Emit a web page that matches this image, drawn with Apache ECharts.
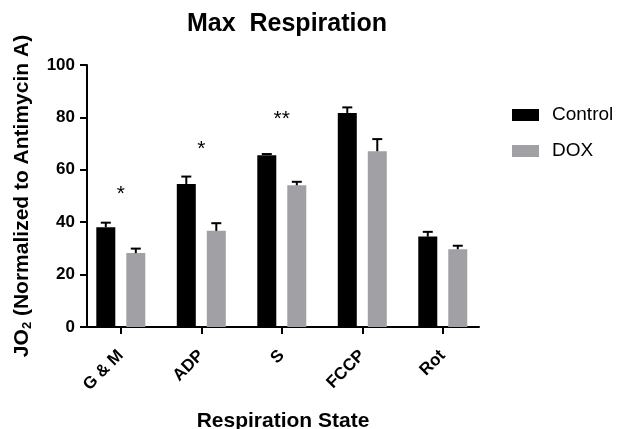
<!DOCTYPE html>
<html>
<head>
<meta charset="utf-8">
<script src="https://cdn.jsdelivr.net/npm/echarts@6/dist/echarts.min.js"></script>
<style>html,body{margin:0;padding:0;background:#fff;}#c{width:619px;height:429px;}</style>
</head>
<body>
<div id="c"></div>
<script>
var categories = ['G & M', 'ADP', 'S', 'FCCP', 'Rot'];
var controlValues = [38.1, 54.6, 65.6, 81.7, 34.5];
var controlErr = [2.1, 3.2, 0.8, 2.5, 2.2];
var doxValues = [28.2, 36.7, 54.1, 67.1, 29.7];
var doxErr = [2.1, 3.3, 1.7, 5.0, 1.7];
var annCategory = [0, 1, 2];
var annText = ['*', '*', '**'];
var annY = [52.6, 69.8, 81.3];
var yTicks = [0, 20, 40, 60, 80, 100];

var FONT = 'Liberation Sans, Arial, sans-serif';
var BAR_W = 19, BAR_GAP = 11;
var OFFSET = (BAR_W + BAR_GAP) / 2;
var catIdx = categories.map(function (c, i) { return i; });

function barData(vals) { return vals.map(function (v, i) { return [i, v]; }); }
function errData(vals, errs) { return vals.map(function (v, i) { return [i, v, errs[i]]; }); }
function errRender(sign) {
  return function (params, api) {
    var x = api.value(0), v = api.value(1), e = api.value(2);
    var p0 = api.coord([x, v]);
    var p1 = api.coord([x, v + e]);
    var cx = p0[0] + sign * OFFSET;
    var top = p1[1] + 1;
    return {
      type: 'group',
      children: [
        { type: 'line', shape: { x1: cx, y1: p0[1], x2: cx, y2: top }, style: { stroke: '#000', lineWidth: 2 } },
        { type: 'line', shape: { x1: cx - 5, y1: top, x2: cx + 5, y2: top }, style: { stroke: '#000', lineWidth: 2 } }
      ]
    };
  };
}
function annRender(params, api) {
  var p = api.coord([api.value(0), api.value(1)]);
  return {
    type: 'text',
    x: p[0], y: p[1] + 5,
    style: {
      text: annText[params.dataIndex],
      fontFamily: FONT, fontSize: 21, fill: '#000',
      align: 'center', verticalAlign: 'middle'
    }
  };
}

var chart = echarts.init(document.getElementById('c'), null, { renderer: 'canvas' });
chart.setOption({
  animation: false,
  backgroundColor: '#fff',
  textStyle: { fontFamily: FONT },
  title: {
    text: 'Max  Respiration',
    left: 282, top: 7, textAlign: 'center',
    textStyle: { fontFamily: FONT, fontWeight: 'bold', fontSize: 25, color: '#000' }
  },
  legend: {
    data: ['Control', 'DOX'],
    orient: 'vertical', left: 507, top: 100,
    icon: 'rect', itemWidth: 27, itemHeight: 12, itemGap: 16,
    textStyle: { fontFamily: FONT, fontSize: 19, color: '#000', lineHeight: 20, padding: [0, 0, 0, 8] }
  },
  grid: { left: 87, right: 140, top: 65, bottom: 102, containLabel: false, outerBoundsMode: 'none' },
  xAxis: {
    type: 'value', min: -0.42, max: 4.45,
    name: 'Respiration State', nameLocation: 'middle', nameGap: 84,
    nameTextStyle: { fontFamily: FONT, fontWeight: 'bold', fontSize: 21, color: '#000' },
    axisLine: { show: true, onZero: false, lineStyle: { color: '#000', width: 2 } },
    axisTick: { show: true, length: 7, lineStyle: { color: '#000', width: 2 }, customValues: catIdx },
    axisLabel: {
      customValues: catIdx, rotate: 45, margin: 26,
      fontFamily: FONT, fontWeight: 'bold', fontSize: 17, color: '#000',
      formatter: function (v) { return categories[Math.round(v)]; }
    },
    splitLine: { show: false }
  },
  yAxis: {
    type: 'value', min: 0, max: 100, interval: 20,
    name: '{a|JO}{s|2}{a| (Normalized to Antimycin A)}',
    nameLocation: 'middle', nameRotate: 90, nameGap: 52,
    nameTextStyle: {
      rich: {
        a: { fontFamily: FONT, fontWeight: 'bold', fontSize: 21, color: '#000', lineHeight: 26 },
        s: { fontFamily: FONT, fontWeight: 'bold', fontSize: 13, color: '#000', lineHeight: 26, padding: [10, 0, 0, 0] }
      }
    },
    axisLine: { show: true, onZero: false, lineStyle: { color: '#000', width: 2 } },
    axisTick: { show: true, length: 7, lineStyle: { color: '#000', width: 2 } },
    axisLabel: {
      margin: 12, fontFamily: FONT, fontWeight: 'bold', fontSize: 17, color: '#000',
      formatter: function (v) { return yTicks.indexOf(v) >= 0 ? String(v) : ''; }
    },
    splitLine: { show: false }
  },
  series: [
    { name: 'Control', type: 'bar', data: barData(controlValues), barWidth: BAR_W, barGap: (BAR_GAP / BAR_W * 100) + '%', itemStyle: { color: '#000' } },
    { name: 'DOX', type: 'bar', data: barData(doxValues), barWidth: BAR_W, barGap: (BAR_GAP / BAR_W * 100) + '%', itemStyle: { color: '#a1a1a5' } },
    { name: 'ctlErr', type: 'custom', data: errData(controlValues, controlErr), renderItem: errRender(-1), z: 5 },
    { name: 'doxErr', type: 'custom', data: errData(doxValues, doxErr), renderItem: errRender(1), z: 5 },
    { name: 'sig', type: 'custom', data: annCategory.map(function (c, i) { return [c, annY[i]]; }), renderItem: annRender, silent: true, z: 6 }
  ]
});
</script>
</body>
</html>
